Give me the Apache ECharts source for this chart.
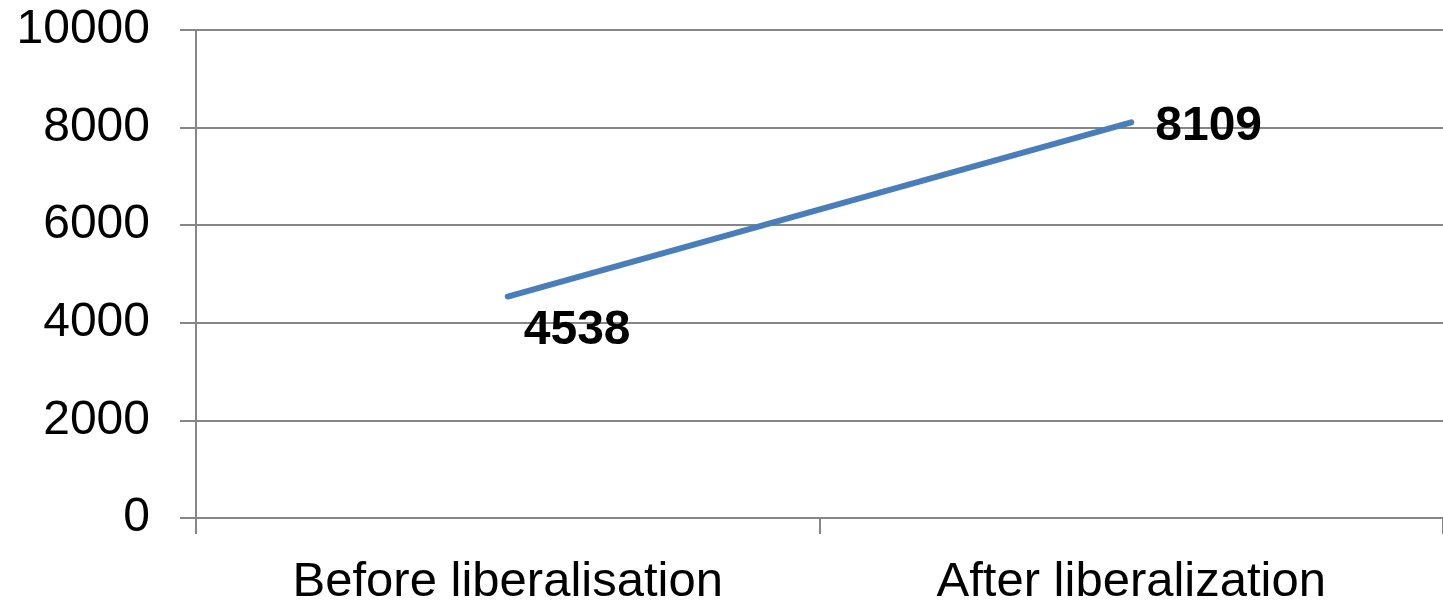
<!DOCTYPE html>
<html><head><meta charset="utf-8">
<script src="https://cdn.jsdelivr.net/npm/echarts@6/dist/echarts.min.js"></script>
<style>html,body{margin:0;padding:0;background:#fff}#c{width:1443px;height:609px}</style>
</head><body><div id="c"></div>
<script>
const categories = ['Before liberalisation', 'After liberalization'];
const values = [4538, 8109];
const yTicks = [0, 2000, 4000, 6000, 8000, 10000];

const labelCfg = [
  {position: 'right', distance: 16, offset: [0, 34]},
  {position: 'right', distance: 24, offset: [0, 4]}
];
const font = 'Liberation Sans';
const chart = echarts.init(document.getElementById('c'));
chart.setOption({
  animation: false,
  grid: {left: 196, right: -6, top: 30, bottom: 91},
  xAxis: {
    type: 'category', data: categories, boundaryGap: true,
    axisLine: {lineStyle: {color: '#868686', width: 2}},
    axisTick: {show: true, length: 16, lineStyle: {color: '#868686', width: 2}},
    axisLabel: {fontFamily: font, fontSize: 49, color: '#000', margin: 40}
  },
  yAxis: {
    type: 'value', min: yTicks[0], max: yTicks[yTicks.length - 1], interval: 2000,
    axisLine: {show: true, lineStyle: {color: '#868686', width: 2}},
    axisTick: {show: true, length: 16, lineStyle: {color: '#868686', width: 2}},
    splitLine: {show: true, lineStyle: {color: '#868686', width: 2}},
    axisLabel: {fontFamily: font, fontSize: 48, color: '#000', margin: 46, formatter: v => String(v)}
  },
  series: [{
    type: 'line',
    data: values.map((v, i) => ({value: v, label: labelCfg[i]})),
    symbol: 'circle', symbolSize: 0, showSymbol: true,
    lineStyle: {color: '#4a7ebb', width: 6, cap: 'round'},
    itemStyle: {color: '#4a7ebb'},
    label: {show: true, fontFamily: font, fontWeight: 'bold', fontSize: 48, color: '#000'}
  }]
});
</script></body></html>
